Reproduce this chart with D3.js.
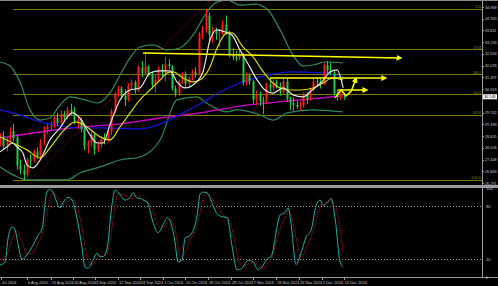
<!DOCTYPE html>
<html><head><meta charset="utf-8">
<script src="https://d3js.org/d3.v7.min.js"></script>
<style>
html,body{margin:0;padding:0;background:#000;overflow:hidden}
svg{display:block}
text{font-family:"Liberation Sans",Arial,sans-serif}
</style></head><body>
<svg width="498" height="286"></svg>
<script>
// daily bars, [open, high, low, close]
const ohlc = [
  [28.30,28.75,28.10,28.60],[28.60,28.85,28.00,28.15],[28.15,28.55,27.85,28.45],[28.45,29.05,28.30,28.85],
  [28.85,29.20,28.35,28.50],[28.55,28.70,26.95,27.15],[27.15,27.45,26.75,26.95],[26.95,27.20,26.45,26.70],
  [26.70,27.55,26.60,27.45],[27.45,27.70,27.10,27.40],[27.40,27.95,27.30,27.85],[27.85,28.05,27.50,27.60],
  [27.60,28.45,27.40,28.30],[28.30,29.10,28.15,28.95],[28.95,29.20,28.70,29.05],[29.05,29.35,28.85,29.15],
  [29.15,29.60,29.00,29.50],[29.50,29.75,29.10,29.25],[29.25,29.90,29.15,29.70],[29.70,29.85,29.40,29.55],
  [29.55,30.05,29.45,29.90],[29.90,30.20,29.60,29.80],[29.80,30.05,29.20,29.35],[29.35,29.55,28.95,29.40],
  [29.40,29.50,28.80,28.95],[28.95,29.05,27.90,28.10],[28.10,28.40,27.75,28.30],[28.30,28.85,28.10,28.70],
  [28.70,28.80,27.70,27.95],[27.95,28.35,27.80,28.20],[28.20,28.60,28.05,28.45],[28.45,28.75,28.20,28.40],
  [28.40,28.90,28.30,28.80],[28.80,29.95,28.65,29.85],[29.85,30.80,29.75,30.70],[30.70,31.10,30.55,30.95],
  [30.95,31.05,30.45,30.60],[30.60,30.90,30.10,30.40],[30.40,31.20,30.30,31.10],[31.10,31.40,30.90,31.25],
  [31.25,31.35,30.70,30.85],[30.85,32.10,30.80,32.00],[32.00,32.30,31.50,31.70],[31.70,32.70,31.60,32.05],
  [32.05,32.10,31.55,31.65],[31.65,31.80,30.95,31.15],[31.15,31.60,30.75,31.40],[31.40,32.05,31.30,31.90],
  [31.90,32.15,31.55,31.75],[31.75,32.50,31.30,32.15],[32.15,32.40,31.90,32.05],[32.05,32.10,30.85,30.95],
  [30.95,31.10,30.55,30.70],[30.70,31.40,30.60,31.30],[31.30,31.75,31.20,31.65],[31.65,31.80,31.05,31.20],
  [31.20,31.55,31.00,31.45],[31.45,31.90,31.35,31.75],[31.75,32.00,31.50,31.65],[31.65,33.75,31.60,33.65],
  [33.65,34.05,33.40,33.85],[33.85,34.87,33.70,34.55],[34.55,34.70,33.30,33.60],[33.60,34.00,33.20,33.75],
  [33.75,33.95,33.35,33.65],[33.65,33.90,33.00,33.70],[33.70,34.30,33.60,34.10],[34.10,34.55,33.60,33.75],
  [33.75,33.80,32.50,32.65],[32.65,32.95,32.35,32.50],[32.50,32.80,32.30,32.45],[32.45,32.85,32.35,32.65],
  [32.65,32.70,31.10,31.25],[31.25,31.75,31.10,31.60],[31.60,31.70,31.15,31.30],[31.30,31.35,30.20,30.40],
  [30.40,30.85,30.15,30.65],[30.65,30.80,30.10,30.35],[30.35,30.55,29.70,30.30],[30.30,31.25,30.20,31.15],
  [31.15,31.45,30.80,31.00],[31.00,31.40,30.85,31.25],[31.25,31.40,30.95,31.05],[31.05,31.25,30.60,30.75],
  [30.75,31.45,30.70,31.30],[31.30,31.45,30.30,30.45],[30.45,30.55,29.90,30.25],[30.25,30.50,29.85,30.15],
  [30.15,30.35,29.95,30.05],[30.05,30.30,29.90,30.10],[30.10,30.75,30.00,30.65],[30.65,30.75,30.20,30.40],
  [30.40,31.00,30.35,30.90],[30.90,31.45,30.80,31.30],[31.30,31.50,31.05,31.25],[31.25,31.45,30.95,31.15],
  [31.15,32.20,31.10,32.10],[32.10,32.30,31.70,31.85],[31.85,32.25,31.60,31.75],[31.75,31.85,30.60,30.70],
  [30.70,30.90,30.35,30.55],[30.55,30.80,30.40,30.56],[30.56,30.75,30.40,30.55]
];
const lastPrice = 30.546;

// indicator lines, [bar, price]
const fastMA = [[0,27.83],[2.1,28.08],[3.6,28.27],[5,28.08],[6.8,27.78],[8,27.19],[9.8,27.04],[11.9,27.43],[14.8,28.42],[17.8,29.01],[21.4,29.75],[23.7,29.5],[26.7,28.67],[28.8,28.27],[30.6,28.27],[32.6,29.16],[35.6,30.39],[38.6,30.88],[41.5,30.98],[44.5,31.72],[47.5,31.82],[50.4,31.82],[52.5,31.28],[54.9,30.98],[57.3,31.13],[60.2,31.77],[62.3,33.34],[64.4,33.84],[66.8,33.74],[68.8,33.59],[71.2,32.85],[73.6,32.16],[76.3,31.37],[78.6,30.88],[81,30.73],[84,30.98],[86.9,30.64],[89.9,30.54],[92.6,30.88],[95.5,31.28],[97.9,31.77],[100,31.87],[101.8,30.98]];
const slowMA = [[0,28.57],[3.9,28.27],[8,27.93],[11.9,27.53],[14.8,28.03],[17.8,28.67],[19.9,29.06],[22.3,29.31],[25.8,29.06],[29.7,28.57],[32.6,28.42],[35.6,29.06],[38.6,29.75],[41.5,30.39],[44.5,30.88],[47.5,31.37],[49.6,31.72],[51.3,31.77],[54.3,31.47],[57.3,31.28],[59.3,31.37],[62.3,32.01],[64.4,32.95],[67.4,33.69],[68.8,33.69],[72.1,33.0],[75.1,32.51],[77.7,31.87],[80.1,31.37],[83.1,30.98],[86.1,30.88],[89,30.88],[92.9,30.98],[95.8,31.23],[98.8,31.47],[101.8,31.37]];
const blueMA = [[0,29.9],[5.9,29.65],[11.9,29.31],[17.8,29.11],[23.7,29.01],[29.7,29.01],[41.5,28.96],[47.5,29.21],[54.3,29.75],[59.3,30.19],[65.3,30.78],[71.2,31.23],[77.2,31.52],[86.1,31.77],[95,31.72],[101.8,31.52]];
const magentaMA = [[0,28.52],[11.9,28.81],[23.7,29.06],[35.6,29.21],[47.5,29.5],[59.3,29.75],[71.2,30.09],[86.1,30.34],[101.8,30.59]];
const bandUpper = [[0,32.26],[3,32.06],[5.9,31.28],[8.9,29.9],[11.9,29.4],[14.8,29.5],[17.8,30.14],[20.8,30.54],[25.2,30.39],[28.8,30.24],[32.6,30.73],[35.6,31.62],[38.6,32.46],[41.5,33.0],[45.4,33.1],[49.6,32.85],[53.4,32.95],[57.3,33.59],[60.8,34.57],[63.8,35.16],[67.4,35.31],[71.2,35.06],[75.7,35.11],[79.5,34.82],[83.1,33.84],[86.9,32.61],[89.9,32.06],[92.9,32.11],[96.4,32.26],[101.8,32.21]];
const bandLower = [[0,27.09],[3.9,26.7],[8,26.45],[14.8,26.45],[19.9,26.45],[23.7,26.79],[29.7,27.09],[35.6,27.43],[41.5,27.58],[47.5,28.42],[52.5,30.39],[58.5,30.54],[60.8,30.29],[67.4,29.8],[70.3,29.9],[77.2,29.65],[81,29.4],[85.2,29.75],[92.9,29.9],[101.8,29.8]];

// fibonacci retracement and drawn objects
const fibHigh = 34.87, fibLow = 26.45, fibStartBar = 3.9;
const fibLevels = ["0.0","23.6","38.2","50.0","61.8","100.0"];
const trendLine = [[8.9,26.45],[62.3,35.31]];
const arrowLines = [
  [[42.4,32.70],[118.7,32.46]],
  [[80.1,31.47],[114.2,31.47]],
  [[100.3,30.88],[108.6,30.88]],
  [[99.4,30.49],[101.2,30.88],[102.7,30.59],[104.2,30.83],[105.6,31.42]]
];

// stochastic, [bar, value]
const stochK = [[0,13.6],[1.5,17],[2.4,44],[3.6,56.5],[4.5,53],[5.3,38],[6.5,20],[8,25],[9.8,36],[11.3,47],[12.5,55],[13.9,96],[14.8,99],[15.7,96],[17.2,81],[17.8,78],[18.7,84],[20.2,90],[21.4,87],[22.8,67],[24.3,34],[25.2,11],[26.1,10],[27.6,19],[28.8,27],[29.7,23],[30.6,23],[31.8,33],[33.2,81],[34.1,98],[35,96],[37.1,87],[38.6,90],[39.5,95],[40.7,89],[41.5,89],[42.4,87],[43.6,85],[45.4,62],[46.9,50],[48.4,59],[49.6,67],[50.4,64],[51.9,40],[52.8,17],[54,19],[54.9,44],[56.4,47],[58.5,70],[59.3,93],[60.2,96],[61.4,95],[63.2,81],[64.7,70],[66.2,68],[67.4,67],[68.8,36],[70.3,8],[71.8,10],[73.6,19],[75.1,17],[76.6,8],[77.4,10],[79.5,21],[80.4,23],[83.1,70],[84.6,73],[85.5,78],[86.4,59],[87.8,14],[89.3,27],[90.8,45],[92.3,53],[93.8,81],[95,87],[95.8,81],[97.3,85],[98.2,89],[99.4,67],[100.9,17],[101.8,11]];
const stochD = [[0,20],[2,25],[3.5,42],[5,52],[6.5,40],[8,26],[9.8,28],[11.3,38],[12.5,48],[13.9,72],[15.7,95],[17.2,90],[18.7,82],[20.2,86],[21.4,88],[22.8,80],[24.3,56],[25.2,35],[26.1,18],[27.6,14],[28.8,22],[30.6,24],[31.8,28],[33.2,55],[34.1,80],[35,94],[37.1,92],[38.6,88],[40.7,92],[42.4,88],[43.6,86],[45.4,75],[46.9,58],[48.4,55],[49.6,62],[50.4,65],[51.9,55],[52.8,35],[54,22],[54.9,28],[56.4,42],[58.5,58],[59.3,72],[60.2,88],[61.4,95],[63.2,88],[64.7,78],[66.2,70],[67.4,68],[68.8,55],[70.3,28],[71.8,12],[73.6,14],[75.1,17],[76.6,13],[77.4,10],[79.5,15],[80.4,20],[83.1,55],[84.6,68],[85.5,75],[86.4,70],[87.8,45],[89.3,22],[90.8,32],[92.3,45],[93.8,65],[95,80],[95.8,85],[97.3,84],[98.2,86],[99.4,80],[100.9,55],[101.8,28]];
const stochLevels = [80, 20];
const stochTicks = [100, 80, 20, 0];

// axis labels
const priceTicks = [34.968,34.390,33.811,33.233,32.654,32.076,31.497,30.919,30.340,29.762,29.183,28.605,28.026,27.448,26.869,26.291];
const dateLabels = [[0.2,"Jul 2024"],[8,"6 Aug 2024"],[15.1,"15 Aug 2024"],[21.7,"26 Aug 2024"],[28.2,"3 Sep 2024"],[35,"12 Sep 2024"],[41.5,"23 Sep 2024"],[48.4,"1 Oct 2024"],[54.9,"10 Oct 2024"],[61.7,"18 Oct 2024"],[68.5,"29 Oct 2024"],[75,"7 Nov 2024"],[81.9,"18 Nov 2024"],[88.7,"26 Nov 2024"],[95.5,"5 Dec 2024"],[102,"16 Dec 2024"]];

const svg = d3.select("svg");
const width = +svg.attr("width");
const height = +svg.attr("height");
const plotRight = 482;
const mainBottom = 185;

const x = d3.scaleLinear().domain([0, 143]).range([0, plotRight]);
const y = d3.scaleLinear().domain([26.2, 35.313]).range([mainBottom, 0]);
const ys = d3.scaleLinear().domain([0, 100]).range([277, 188.5]);

svg.append("rect").attr("width", width).attr("height", height).attr("fill", "#000");

const defs = svg.append("defs");
defs.append("clipPath").attr("id", "mainClip").append("rect")
  .attr("x", 0).attr("y", 1).attr("width", plotRight).attr("height", mainBottom - 1);
defs.append("clipPath").attr("id", "stochClip").append("rect")
  .attr("x", 0).attr("y", 188).attr("width", plotRight).attr("height", 89);
defs.append("marker").attr("id", "arrow").attr("viewBox", "0 0 10 10")
  .attr("refX", 6).attr("refY", 5).attr("markerWidth", 4).attr("markerHeight", 4)
  .attr("orient", "auto").attr("markerUnits", "strokeWidth")
  .append("path").attr("d", "M0,0L10,5L0,10Z").attr("fill", "#ffff00");

const main = svg.append("g").attr("clip-path", "url(#mainClip)");

// fib levels
const fibPrice = r => fibHigh - (+r / 100) * (fibHigh - fibLow);
main.selectAll(".fib").data(fibLevels).enter().append("line")
  .attr("x1", x(fibStartBar)).attr("x2", plotRight)
  .attr("y1", d => Math.round(y(fibPrice(d))) + 0.5)
  .attr("y2", d => Math.round(y(fibPrice(d))) + 0.5)
  .attr("stroke", "#7a7a00").attr("stroke-width", 1);
main.selectAll(".fibText").data(fibLevels).enter().append("text")
  .attr("x", plotRight - 1).attr("y", d => y(fibPrice(d)) - 0.5)
  .attr("text-anchor", "end").attr("font-size", 4).attr("fill", "#8a8a00")
  .text(d => d);

// fib trend line
main.append("line")
  .attr("x1", x(trendLine[0][0])).attr("y1", y(trendLine[0][1]))
  .attr("x2", x(trendLine[1][0])).attr("y2", y(trendLine[1][1]))
  .attr("stroke", "#8b0000").attr("stroke-dasharray", "1,1").attr("stroke-width", 1);

const lineP = d3.line().x(d => x(d[0])).y(d => y(d[1])).curve(d3.curveMonotoneX);

main.append("path").datum(bandUpper).attr("d", lineP).attr("fill", "none").attr("stroke", "#2e8b57").attr("stroke-width", 1.2);
main.append("path").datum(bandLower).attr("d", lineP).attr("fill", "none").attr("stroke", "#2e8b57").attr("stroke-width", 1.2);
main.append("path").datum(magentaMA).attr("d", lineP).attr("fill", "none").attr("stroke", "#d000d0").attr("stroke-width", 1.3);
main.append("path").datum(blueMA).attr("d", lineP).attr("fill", "none").attr("stroke", "#1414d8").attr("stroke-width", 1.3);

// candles
const bars = main.append("g").selectAll("g").data(ohlc).enter().append("g");
const colour = d => d[3] >= d[0] ? "#ff1a1a" : "#22cc44";
bars.append("line")
  .attr("x1", (d, i) => Math.round(x(i)) + 0.5).attr("x2", (d, i) => Math.round(x(i)) + 0.5)
  .attr("y1", d => y(d[1])).attr("y2", d => y(d[2]))
  .attr("stroke", colour).attr("stroke-width", 1);
bars.append("rect")
  .attr("x", (d, i) => Math.round(x(i)) - 0.5).attr("width", 2)
  .attr("y", d => y(Math.max(d[0], d[3])))
  .attr("height", d => Math.max(1, Math.abs(y(d[0]) - y(d[3]))))
  .attr("fill", colour);

main.append("path").datum(slowMA).attr("d", lineP).attr("fill", "none").attr("stroke", "#d8d800").attr("stroke-width", 1.2);
main.append("path").datum(fastMA).attr("d", lineP).attr("fill", "none").attr("stroke", "#e6e6e6").attr("stroke-width", 1.2);

// drawn yellow arrows
const straight = d3.line().x(d => x(d[0])).y(d => y(d[1]));
main.selectAll(".arr").data(arrowLines).enter().append("path")
  .attr("d", straight).attr("fill", "none").attr("stroke", "#ffff00")
  .attr("stroke-width", 1.5).attr("marker-end", "url(#arrow)");

// stochastic pane
const stoch = svg.append("g").attr("clip-path", "url(#stochClip)");
stoch.selectAll(".lvl").data(stochLevels).enter().append("line")
  .attr("x1", 0).attr("x2", plotRight)
  .attr("y1", d => Math.round(ys(d)) + 0.5).attr("y2", d => Math.round(ys(d)) + 0.5)
  .attr("stroke", "#9a9a9a").attr("stroke-dasharray", "1,2").attr("stroke-width", 1);
const lineS = d3.line().x(d => x(d[0])).y(d => ys(d[1])).curve(d3.curveMonotoneX);
stoch.append("path").datum(stochD).attr("d", lineS).attr("fill", "none")
  .attr("stroke", "#b01010").attr("stroke-dasharray", "1.5,1").attr("stroke-width", 1);
stoch.append("path").datum(stochK).attr("d", lineS).attr("fill", "none")
  .attr("stroke", "#20b2aa").attr("stroke-width", 1);

// frame
svg.append("line").attr("x1", 0).attr("x2", width).attr("y1", 0.5).attr("y2", 0.5).attr("stroke", "#8c8c8c");
svg.append("rect").attr("x", 0).attr("y", 185).attr("width", width).attr("height", 3).attr("fill", "#9a9a9a");
svg.append("line").attr("x1", 0).attr("x2", width).attr("y1", 277.5).attr("y2", 277.5).attr("stroke", "#9a9a9a");
svg.append("line").attr("x1", plotRight + 0.5).attr("x2", plotRight + 0.5).attr("y1", 0).attr("y2", 278).attr("stroke", "#9a9a9a");

// price axis, hiding the tick that sits under the last price box
const shownTicks = priceTicks.filter(d => Math.abs(y(d) - y(lastPrice)) > 5);
const priceAxis = svg.append("g");
priceAxis.selectAll("line").data(shownTicks).enter().append("line")
  .attr("x1", plotRight).attr("x2", plotRight + 2)
  .attr("y1", d => Math.round(y(d)) + 0.5).attr("y2", d => Math.round(y(d)) + 0.5)
  .attr("stroke", "#9a9a9a");
priceAxis.selectAll("text").data(shownTicks).enter().append("text")
  .attr("x", plotRight + 3).attr("y", d => y(d) + 1.5)
  .attr("font-size", 3.8).attr("fill", "#c8c8c8")
  .text(d => d.toFixed(3));
svg.append("rect").attr("x", plotRight + 1).attr("y", y(lastPrice) - 2.5).attr("width", 14).attr("height", 5).attr("fill", "#fff");
svg.append("text").attr("x", plotRight + 2).attr("y", y(lastPrice) + 1.5)
  .attr("font-size", 3.8).attr("fill", "#000").text(lastPrice.toFixed(3));

// stochastic axis
svg.selectAll(".st").data(stochTicks).enter().append("text")
  .attr("x", plotRight + 4).attr("y", d => ys(d) + 1.5)
  .attr("font-size", 4).attr("fill", "#c8c8c8").text(d => d);

// date axis
const dateAxis = svg.append("g");
dateAxis.selectAll("line").data(dateLabels).enter().append("line")
  .attr("x1", d => Math.round(x(d[0])) + 0.5).attr("x2", d => Math.round(x(d[0])) + 0.5)
  .attr("y1", 277).attr("y2", 280).attr("stroke", "#9a9a9a");
dateAxis.selectAll("text").data(dateLabels).enter().append("text")
  .attr("x", d => x(d[0]) + 1).attr("y", 284)
  .attr("font-size", 3.9).attr("fill", "#c8c8c8").text(d => d[1]);
</script>
</body></html>
